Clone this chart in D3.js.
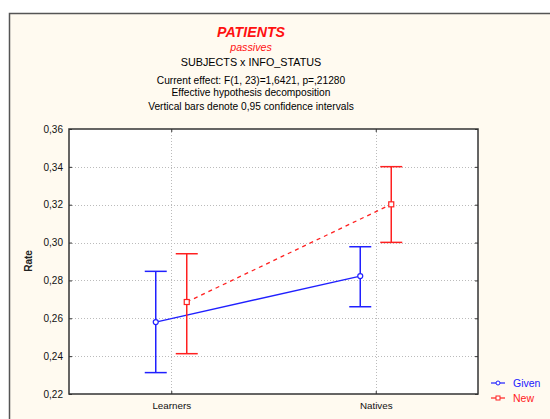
<!DOCTYPE html>
<html><head><meta charset="utf-8">
<script src="https://cdn.jsdelivr.net/npm/d3@7"></script>
<style>html,body{margin:0;padding:0;background:#fff;}</style>
</head><body>
<svg id="c" width="550" height="419"></svg>
<script>
const categories = ["Learners", "Natives"];
const seriesNames = ["Given", "New"];
const givenMean = [0.2580, 0.2823];
const givenLow  = [0.2313, 0.2661];
const givenHigh = [0.2848, 0.2978];
const newMean   = [0.2686, 0.3202];
const newLow    = [0.2413, 0.3001];
const newHigh   = [0.2941, 0.3401];
const yTicks = [0.22, 0.24, 0.26, 0.28, 0.30, 0.32, 0.34, 0.36];
const titleLines = ["PATIENTS", "passives", "SUBJECTS x INFO_STATUS",
  "Current effect: F(1, 23)=1,6421, p=,21280", "Effective hypothesis decomposition",
  "Vertical bars denote 0,95 confidence intervals"];

const svg = d3.select("#c");
const font = "'Liberation Sans', Arial, sans-serif";
// outer frame
svg.append("rect").attr("x", 9.5).attr("y", 13.5).attr("width", 560).attr("height", 420)
  .attr("fill", "#fffaf0").attr("stroke", "#555").attr("stroke-width", 1.5);

const L = 69, R = 478, T = 129, B = 394;
const x = d3.scalePoint().domain(categories).range([L, R]).padding(0.5);
const y = d3.scaleLinear().domain([0.22, 0.36]).range([B, T]);

svg.append("rect").attr("x", L).attr("y", T).attr("width", R - L).attr("height", B - T).attr("fill", "#fff");

// grid
const g = svg.append("g");
g.selectAll(".gy").data(yTicks.slice(1, -1)).join("line")
  .attr("x1", L).attr("x2", R).attr("y1", d => Math.round(y(d)) + 0.5).attr("y2", d => Math.round(y(d)) + 0.5)
  .attr("stroke", "#bbb").attr("stroke-dasharray", "1,2");
g.selectAll(".gx").data(categories).join("line")
  .attr("y1", T).attr("y2", B).attr("x1", d => Math.round(x(d)) + 0.5).attr("x2", d => Math.round(x(d)) + 0.5)
  .attr("stroke", "#bbb").attr("stroke-dasharray", "1,2");

// axes
const fmt = d => d3.format(".2f")(d).replace(".", ",");
const ayL = svg.append("g").attr("transform", `translate(${L},0)`)
  .call(d3.axisRight(y).tickValues(yTicks).tickSize(3).tickFormat(""));
const ayLab = svg.append("g").attr("transform", `translate(${L},0)`)
  .call(d3.axisLeft(y).tickValues(yTicks).tickSize(0).tickPadding(6).tickFormat(fmt));
ayLab.select(".domain").remove();
ayLab.selectAll("text").attr("font-family", font).attr("font-size", 10).attr("fill", "#111");
const ayR = svg.append("g").attr("transform", `translate(${R},0)`)
  .call(d3.axisLeft(y).tickValues(yTicks).tickSize(3).tickFormat(""));
const axB = svg.append("g").attr("transform", `translate(0,${B})`)
  .call(d3.axisTop(x).tickSize(3).tickFormat(""));
const axBLab = svg.append("g").attr("transform", `translate(0,${B})`)
  .call(d3.axisBottom(x).tickSize(0).tickPadding(8));
axBLab.select(".domain").remove();
axBLab.selectAll("text").attr("font-family", font).attr("font-size", 9.8).attr("fill", "#111");
const axT = svg.append("g").attr("transform", `translate(0,${T})`)
  .call(d3.axisBottom(x).tickSize(3).tickFormat(""));
[ayL, ayR, axB, axT].forEach(a => { a.selectAll("line").attr("stroke", "#333"); a.select(".domain").remove(); });
svg.append("rect").attr("x", L).attr("y", T).attr("width", R - L).attr("height", B - T)
  .attr("fill", "none").attr("stroke", "#333").attr("stroke-width", 1.5);

// series
const series = [
  {name: "Given", mean: givenMean, low: givenLow, high: givenHigh, color: "#2020ff", off: -15.5, dash: null, shape: "circle"},
  {name: "New", mean: newMean, low: newLow, high: newHigh, color: "#ff2020", off: 15.5, dash: "4,4", shape: "square"}
];
series.forEach(s => {
  const px = i => x(categories[i]) + s.off;
  const line = d3.line().x(d => px(d)).y(d => y(s.mean[d]));
  svg.append("path").attr("d", line([0, 1])).attr("fill", "none").attr("stroke", s.color)
    .attr("stroke-width", 1.3).attr("stroke-dasharray", s.dash);
  categories.forEach((c, i) => {
    const cx = px(i);
    svg.append("line").attr("x1", cx).attr("x2", cx).attr("y1", y(s.low[i])).attr("y2", y(s.high[i]))
      .attr("stroke", s.color).attr("stroke-width", 1.5);
    [s.low[i], s.high[i]].forEach(v => svg.append("line").attr("x1", cx - 11).attr("x2", cx + 11)
      .attr("y1", y(v)).attr("y2", y(v)).attr("stroke", s.color).attr("stroke-width", 1.5));
    if (s.shape === "circle")
      svg.append("circle").attr("cx", cx).attr("cy", y(s.mean[i])).attr("r", 2.5)
        .attr("fill", "#fff").attr("stroke", s.color).attr("stroke-width", 1.2);
    else
      svg.append("rect").attr("x", cx - 2.5).attr("y", y(s.mean[i]) - 2.5).attr("width", 5).attr("height", 5)
        .attr("fill", "#fff").attr("stroke", s.color).attr("stroke-width", 1.2);
  });
});

// legend
series.forEach((s, i) => {
  const ly = 383 + i * 15;
  svg.append("line").attr("x1", 491).attr("x2", 505).attr("y1", ly).attr("y2", ly)
    .attr("stroke", s.color).attr("stroke-width", 1.2);
  if (s.shape === "circle")
    svg.append("circle").attr("cx", 498).attr("cy", ly).attr("r", 2).attr("fill", "#fff").attr("stroke", s.color);
  else
    svg.append("rect").attr("x", 496).attr("y", ly - 2).attr("width", 4).attr("height", 4).attr("fill", "#fff").attr("stroke", s.color);
  svg.append("text").attr("x", 513).attr("y", ly + 3.5).text(seriesNames[i])
    .attr("font-family", font).attr("font-size", 10.5).attr("fill", s.color);
});

// titles
const tStyles = [
  {y: 37, size: 14.2, weight: "bold", style: "italic", fill: "#ff1010"},
  {y: 51, size: 10.7, weight: "normal", style: "italic", fill: "#ff1010"},
  {y: 66, size: 10.8, weight: "normal", style: "normal", fill: "#000"},
  {y: 84, size: 10.2, weight: "normal", style: "normal", fill: "#000"},
  {y: 96, size: 10.2, weight: "normal", style: "normal", fill: "#000"},
  {y: 110, size: 10.2, weight: "normal", style: "normal", fill: "#000"}
];
titleLines.forEach((t, i) => {
  const st = tStyles[i];
  svg.append("text").attr("x", 251).attr("y", st.y).attr("text-anchor", "middle").text(t)
    .attr("font-family", font).attr("font-size", st.size).attr("font-weight", st.weight)
    .attr("font-style", st.style).attr("fill", st.fill);
});
svg.append("text").attr("transform", "translate(32,261) rotate(-90)").attr("text-anchor", "middle")
  .text("Rate").attr("font-family", font).attr("font-size", 10).attr("font-weight", "bold").attr("fill", "#222");
</script>
</body></html>
